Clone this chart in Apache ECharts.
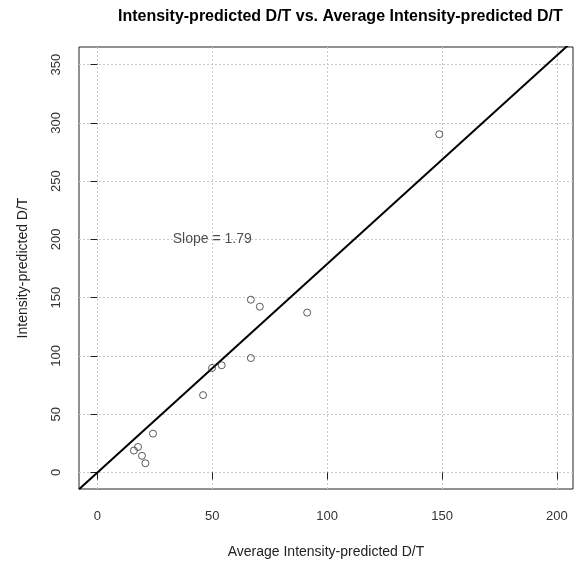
<!DOCTYPE html>
<html>
<head>
<meta charset="utf-8">
<script src="https://cdn.jsdelivr.net/npm/echarts@6/dist/echarts.min.js"></script>
<style>
  html, body { margin: 0; padding: 0; background: #fff; }
  #chart { width: 584px; height: 564px; }
</style>
</head>
<body>
<div id="chart"></div>
<script>
// Average intensity-predicted D/T (x) vs. intensity-predicted D/T (y)
const avgDT = [148.8, 66.8, 70.7, 91.3, 66.8, 54.1, 49.9, 46.0, 24.2, 17.7, 15.9, 19.4, 20.9];
const predDT = [290.3, 148.3, 142.3, 137.2, 98.2, 92.0, 89.7, 66.4, 33.3, 21.9, 18.8, 14.3, 7.9];
const slope = 1.79;
const xTicks = [0, 50, 100, 150, 200];
const yTicks = [0, 50, 100, 150, 200, 250, 300, 350];
const xRange = [-8, 207];
const yRange = [-14.2, 365.2];

const font = '"Liberation Sans", Arial, sans-serif';
const points = avgDT.map((x, i) => [x, predDT[i]]);
// Fitted line through the origin, spanning the visible x range
const fitLine = xRange.map(x => [x, slope * x]);

const chart = echarts.init(document.getElementById('chart'), null, { renderer: 'canvas' });

const gridLine = { show: true, lineStyle: { color: '#c8c8c8', type: [2, 2], width: 1 } };

chart.setOption({
  animation: false,
  backgroundColor: '#ffffff',
  title: {
    text: 'Intensity-predicted D/T vs. Average Intensity-predicted D/T',
    left: 113,
    top: 4,
    textStyle: { fontFamily: font, fontSize: 16, fontWeight: 'bold', color: '#000' }
  },
  grid: {
    left: 79, right: 11, top: 47, bottom: 72,
    show: true, borderColor: '#222', borderWidth: 1, backgroundColor: 'transparent'
  },
  xAxis: {
    type: 'value',
    min: xRange[0], max: xRange[1],
    name: 'Average Intensity-predicted D/T',
    nameLocation: 'middle',
    nameGap: 56,
    nameTextStyle: { fontFamily: font, fontSize: 14, color: '#222' },
    axisLine: { show: false },
    axisTick: { show: true, inside: false, length: 7, customValues: xTicks, lineStyle: { color: '#222' } },
    axisLabel: { customValues: xTicks, margin: 21, fontFamily: font, fontSize: 13, color: '#333' },
    splitLine: gridLine
  },
  yAxis: {
    type: 'value',
    min: yRange[0], max: yRange[1],
    name: 'Intensity-predicted D/T',
    nameLocation: 'middle',
    nameGap: 49,
    nameRotate: 90,
    nameTextStyle: { fontFamily: font, fontSize: 14, color: '#222' },
    axisLine: { show: false },
    axisTick: { show: true, inside: false, length: 7, customValues: yTicks, lineStyle: { color: '#222' } },
    axisLabel: { customValues: yTicks, rotate: 90, margin: 16, fontFamily: font, fontSize: 13, color: '#333' },
    splitLine: gridLine
  },
  series: [
    {
      type: 'line',
      data: fitLine,
      clip: true,
      symbol: 'none',
      lineStyle: { color: '#000', width: 2 },
      z: 3
    },
    {
      type: 'scatter',
      data: points,
      symbol: 'circle',
      symbolSize: 7,
      itemStyle: { color: 'rgba(255,255,255,0)', borderColor: '#333', borderWidth: 1 },
      z: 4
    },
    {
      type: 'scatter',
      data: [[50, 200]],
      symbolSize: 0,
      silent: true,
      label: {
        show: true,
        position: 'inside',
        formatter: 'Slope = ' + slope.toFixed(2),
        fontFamily: font, fontSize: 14, color: '#222'
      },
      z: 5
    }
  ]
});
</script>
</body>
</html>
